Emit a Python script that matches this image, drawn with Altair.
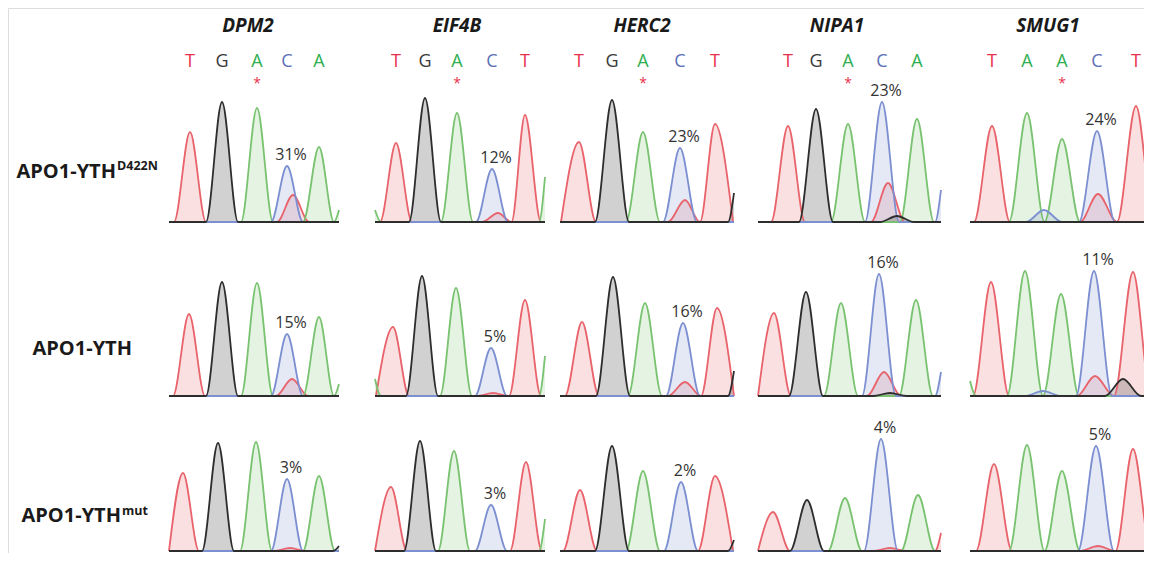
import altair as alt
import pandas as pd

# ---------------- data ----------------
GENES = ["DPM2", "EIF4B", "HERC2", "NIPA1", "SMUG1"]
SEQUENCES = ["TGACA", "TGACT", "TGACT", "TGACA", "TAACT"]
EDITED_INDEX = 2      # base marked with the asterisk
READOUT_INDEX = 3     # base whose minor T signal is quantified
ROW_MAIN = ["APO1-YTH", "APO1-YTH", "APO1-YTH"]
ROW_SUP = ["D422N", "", "mut"]
PERCENT = [
    [31, 12, 23, 23, 24],
    [15, 5, 16, 16, 11],
    [3, 3, 2, 4, 5],
]
# trace position of each called base (row -> gene -> 5 bases)
PEAK_X = [
    [[190, 222, 257, 287, 319], [396, 425, 457, 492, 525], [579, 612, 643, 680, 715],
     [788, 816, 848, 882, 917], [992, 1027, 1062, 1097, 1136]],
    [[189, 222, 257, 287, 319], [393, 422, 456, 491, 525], [582, 613, 645, 683, 717],
     [774, 806, 841, 879, 916], [991, 1025, 1061, 1094, 1133]],
    [[183, 218, 256, 287, 319], [391, 420, 454, 491, 526], [580, 612, 643, 681, 715],
     [773, 807, 845, 881, 918], [994, 1027, 1062, 1096, 1133]],
]
# signal height of each called base
PEAK_H = [
    [[90, 120, 114, 56, 75], [79, 124, 109, 53, 107], [80, 122, 90, 74, 98],
     [96, 113, 98, 120, 103], [96, 109, 83, 91, 116]],
    [[82, 114, 113, 62, 79], [69, 120, 108, 48, 96], [74, 119, 93, 73, 88],
     [83, 104, 93, 122, 96], [114, 125, 102, 125, 124]],
    [[78, 108, 109, 72, 75], [64, 110, 100, 46, 89], [61, 105, 80, 69, 75],
     [39, 51, 53, 112, 56], [87, 106, 80, 105, 102]],
]
# secondary peaks: (row, gene, base, position, height)
MINOR = [
    (0, 0, "T", 293, 27), (1, 0, "T", 292, 17), (2, 0, "T", 290, 3),
    (0, 1, "T", 498, 9), (1, 1, "T", 493, 3),
    (0, 2, "T", 685, 22), (1, 2, "T", 685, 14),
    (0, 3, "T", 888, 39), (0, 3, "G", 897, 6), (1, 3, "T", 884, 24), (1, 3, "G", 890, 3),
    (2, 3, "T", 890, 3),
    (0, 4, "T", 1098, 28), (0, 4, "C", 1044, 12), (1, 4, "T", 1095, 20),
    (1, 4, "G", 1123, 17), (1, 4, "C", 1043, 5), (2, 4, "T", 1098, 5),
]
# signal at the cut edges of a trace: (row, gene, side, base, height)
EDGE = [
    (0, 0, "R", "A", 12), (1, 0, "R", "A", 12), (2, 0, "R", "G", 5),
    (0, 1, "L", "A", 12), (0, 1, "R", "A", 45), (1, 1, "L", "A", 17), (1, 1, "R", "A", 40),
    (2, 1, "R", "A", 32),
    (0, 2, "R", "G", 29), (1, 2, "R", "G", 25), (2, 2, "R", "G", 11),
    (0, 3, "R", "C", 32), (1, 3, "R", "C", 24), (2, 3, "R", "T", 18),
    (1, 4, "L", "A", 15),
]

# ---------------- layout / style ----------------
W, H = 1136, 545
X_DOMAIN = [8, 1144]
Y_DOMAIN = [0, 545]
ROW_BASE = [331, 157, 2]
PANEL_X0 = [169, 375, 560, 758, 970]
PANEL_X1 = [339, 545, 734, 941, 1160]
HALF_W = [16, 16, 17, 17, 18]
RISE = 6
TITLE_X = [248, 457, 642, 837, 1048]
TITLE_Y, LETTER_Y, STAR_Y = 521, 486, 465
ROW_LABEL_X = [116, 132, 121]
ROW_MAIN_Y = [375, 198, 31]
ROW_SUP_Y = [383, 0, 38]
FONT = "Open Sans"
LINE_COLOR = {"T": "#e8636b", "G": "#2d2d2d", "A": "#79c270", "C": "#7c8fd1"}
TEXT_COLOR = {"T": "#e8304a", "G": "#3a3a3a", "A": "#2eae4f", "C": "#5d6fb6"}
FILL_OPACITY = {"T": 0.2, "G": 0.22, "A": 0.2, "C": 0.2}


def build_trace(peaks, x0, x1, w, lv, rv):
    peaks = sorted(peaks)
    pts = [(x0, lv)]
    if lv > 0:
        pts.append((x0 + RISE, 0))
    for i, (px, ph) in enumerate(peaks):
        lf = px - w
        if i == 0:
            pts.append((lf, 0))
        else:
            prf = peaks[i - 1][0] + w
            if prf >= lf - 1:
                pts.append(((prf + lf) / 2, 0))
            else:
                pts.append((prf, 0))
                pts.append((lf, 0))
        pts.append((px, ph))
    if peaks:
        pts.append((peaks[-1][0] + w, 0))
    if rv > 0:
        pts.append((x1 - RISE, 0))
    pts.append((x1, rv))
    pts = [p for p in pts if x0 <= p[0] <= x1]
    pts.sort(key=lambda p: p[0])
    out = []
    for p in pts:
        if out and abs(p[0] - out[-1][0]) < 2.5:
            if p[1] == 0 and out[-1][1] == 0:
                out[-1] = ((p[0] + out[-1][0]) / 2, 0)
                continue
            if p[1] == 0:
                continue
            if out[-1][1] == 0:
                out[-1] = p
                continue
        out.append(p)
    return out


records = []
for r in range(3):
    for c in range(5):
        chans = {b: [] for b in "TGAC"}
        for b, px, ph in zip(SEQUENCES[c], PEAK_X[r][c], PEAK_H[r][c]):
            chans[b].append((px, ph))
        for rr, cc, b, px, ph in MINOR:
            if rr == r and cc == c:
                chans[b].append((px, ph))
        for b in "TGAC":
            lv = sum(v for rr, cc, s, bb, v in EDGE if rr == r and cc == c and s == "L" and bb == b)
            rv = sum(v for rr, cc, s, bb, v in EDGE if rr == r and cc == c and s == "R" and bb == b)
            pts = build_trace(chans[b], PANEL_X0[c], PANEL_X1[c], HALF_W[c], lv, rv)
            for x, h in pts:
                records.append({"trace": f"{r}-{c}-{b}", "base": b, "x": x,
                                "y": ROW_BASE[r] + h, "y0": ROW_BASE[r]})
traces = pd.DataFrame(records)

xs = alt.Scale(domain=X_DOMAIN, nice=False, zero=False)
ys = alt.Scale(domain=Y_DOMAIN, nice=False, zero=False)
X = alt.X("x:Q", scale=xs, axis=None)
Y = alt.Y("y:Q", scale=ys, axis=None)

layers = []
base_chart = alt.Chart(traces)
for b in ["T", "A", "C", "G"]:
    layers.append(
        base_chart.transform_filter(alt.datum.base == b)
        .mark_area(interpolate="monotone", color=LINE_COLOR[b], opacity=FILL_OPACITY[b])
        .encode(x=X, y=alt.Y("y:Q", scale=ys, axis=None, stack=None), y2="y0:Q",
                detail="trace:N")
    )
for b in ["T", "A", "C", "G"]:
    layers.append(
        base_chart.transform_filter(alt.datum.base == b)
        .mark_line(interpolate="monotone", color=LINE_COLOR[b], strokeWidth=1.8,
                   strokeJoin="round")
        .encode(x=X, y=Y, detail="trace:N")
    )

# gene titles
titles = pd.DataFrame({"x": TITLE_X, "y": [TITLE_Y] * 5, "text": GENES})
layers.append(
    alt.Chart(titles).mark_text(font=FONT, fontSize=19, fontWeight="bold", fontStyle="italic",
                                color="#1a1a1a", baseline="alphabetic")
    .encode(x=X, y=Y, text="text:N")
)

# base letters
letters = pd.DataFrame([
    {"x": PEAK_X[0][c][i], "y": LETTER_Y, "text": b}
    for c in range(5) for i, b in enumerate(SEQUENCES[c])
])
for b in "TGAC":
    layers.append(
        alt.Chart(letters).transform_filter(alt.datum.text == b)
        .mark_text(font=FONT, fontSize=18, color=TEXT_COLOR[b], baseline="alphabetic")
        .encode(x=X, y=Y, text="text:N")
    )

# asterisks under the edited base
stars = pd.DataFrame({"x": [PEAK_X[0][c][EDITED_INDEX] for c in range(5)],
                      "y": [STAR_Y] * 5, "text": ["*"] * 5})
layers.append(
    alt.Chart(stars).mark_text(font=FONT, fontSize=14, color=TEXT_COLOR["T"], baseline="alphabetic")
    .encode(x=X, y=Y, text="text:N")
)

# percentage labels above the C peak
pct = pd.DataFrame([
    {"x": PEAK_X[r][c][READOUT_INDEX], "y": ROW_BASE[r] + PEAK_H[r][c][READOUT_INDEX] + 6,
     "text": f"{PERCENT[r][c]}%"}
    for r in range(3) for c in range(5)
])
layers.append(
    alt.Chart(pct).mark_text(font=FONT, fontSize=16, color="#333333", baseline="alphabetic", dx=4)
    .encode(x=X, y=Y, text="text:N")
)

# row labels
rmain = pd.DataFrame({"x": ROW_LABEL_X, "y": ROW_MAIN_Y, "text": ROW_MAIN})
layers.append(
    alt.Chart(rmain).mark_text(font=FONT, fontSize=20, fontWeight="bold", color="#1a1a1a",
                               align="right", baseline="alphabetic")
    .encode(x=X, y=Y, text="text:N")
)
rsup = pd.DataFrame({"x": [v + 1 for v in ROW_LABEL_X], "y": ROW_SUP_Y, "text": ROW_SUP})
rsup = rsup[rsup["text"] != ""]
layers.append(
    alt.Chart(rsup).mark_text(font=FONT, fontSize=12.5, fontWeight="bold", color="#1a1a1a",
                              align="left", baseline="alphabetic")
    .encode(x=X, y=Y, text="text:N")
)

chart = (
    alt.layer(*layers)
    .properties(width=W, height=H, padding=0, autosize=alt.AutoSizeParams(type="none"))
    .configure_view(stroke="transparent", strokeWidth=0)
    .configure_axis(domain=False, grid=False, ticks=False, labels=False)
    .configure(background="white")
)

chart.save("out.html", embed_options={"renderer": "svg", "actions": False})
